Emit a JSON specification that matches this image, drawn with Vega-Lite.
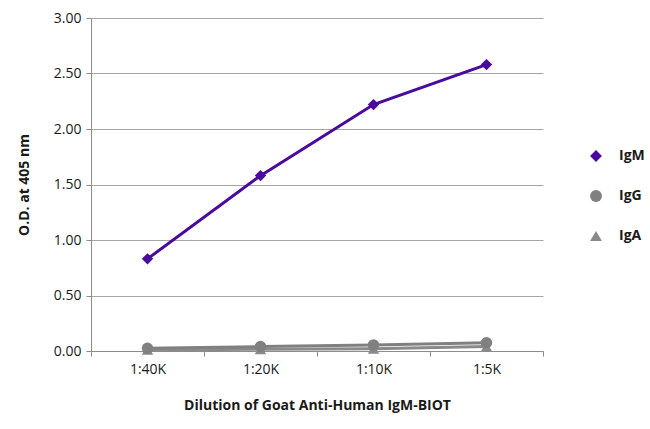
{
  "$schema": "https://vega.github.io/schema/vega-lite/v6.json",
  "width": 452,
  "height": 333,
  "autosize": "none",
  "padding": {"left": 91, "top": 18, "right": 107, "bottom": 78},
  "background": "white",
  "data": {
    "values": [
      {"dilution": "1:40K", "antibody": "IgA", "od": 0.01},
      {"dilution": "1:20K", "antibody": "IgA", "od": 0.015},
      {"dilution": "1:10K", "antibody": "IgA", "od": 0.02},
      {"dilution": "1:5K", "antibody": "IgA", "od": 0.04},
      {"dilution": "1:40K", "antibody": "IgG", "od": 0.025},
      {"dilution": "1:20K", "antibody": "IgG", "od": 0.04},
      {"dilution": "1:10K", "antibody": "IgG", "od": 0.055},
      {"dilution": "1:5K", "antibody": "IgG", "od": 0.075},
      {"dilution": "1:40K", "antibody": "IgM", "od": 0.83},
      {"dilution": "1:20K", "antibody": "IgM", "od": 1.58},
      {"dilution": "1:10K", "antibody": "IgM", "od": 2.22},
      {"dilution": "1:5K", "antibody": "IgM", "od": 2.58}
    ]
  },
  "mark": {
    "type": "line",
    "strokeWidth": 3,
    "point": {"filled": true, "size": 130, "opacity": 1}
  },
  "encoding": {
    "x": {
      "field": "dilution",
      "type": "ordinal",
      "sort": ["1:40K", "1:20K", "1:10K", "1:5K"],
      "scale": {"type": "band", "paddingInner": 0, "paddingOuter": 0},
      "axis": {
        "title": "Dilution of Goat Anti-Human IgM-BIOT",
        "labelAngle": 0,
        "tickBand": "extent",
        "tickSize": 5,
        "labelPadding": 6,
        "titlePadding": 22
      }
    },
    "y": {
      "field": "od",
      "type": "quantitative",
      "scale": {"domain": [0, 3]},
      "axis": {
        "title": "O.D. at 405 nm",
        "values": [0, 0.5, 1, 1.5, 2, 2.5, 3],
        "format": ".2f",
        "tickSize": 5,
        "labelPadding": 5,
        "titlePadding": 22
      }
    },
    "color": {
      "field": "antibody",
      "type": "nominal",
      "scale": {"domain": ["IgM", "IgG", "IgA"], "range": ["#4a0a9e", "#808080", "#8a8a8a"]},
      "legend": {"title": null, "orient": "none", "legendX": 498, "legendY": 131}
    },
    "shape": {
      "field": "antibody",
      "type": "nominal",
      "scale": {"domain": ["IgM", "IgG", "IgA"], "range": ["diamond", "circle", "triangle-up"]},
      "legend": {"title": null, "orient": "none", "legendX": 498, "legendY": 131}
    },
    "order": {"field": "antibody"}
  },
  "config": {
    "font": "Open Sans",
    "view": {"stroke": null},
    "axis": {
      "domainColor": "#8c8c8c",
      "tickColor": "#8c8c8c",
      "gridColor": "#a6a6a6",
      "labelFont": "Open Sans",
      "labelFontSize": 14,
      "labelColor": "#1a1a1a",
      "titleFont": "Open Sans",
      "titleFontSize": 14,
      "titleFontWeight": "bold",
      "titleColor": "#1a1a1a"
    },
    "axisX": {"grid": false},
    "legend": {
      "padding": 0,
      "labelFont": "Open Sans",
      "labelFontSize": 14,
      "labelFontWeight": "bold",
      "labelColor": "#1a1a1a",
      "rowPadding": 26,
      "symbolSize": 140,
      "symbolStrokeWidth": 0,
      "labelOffset": 16
    }
  }
}
